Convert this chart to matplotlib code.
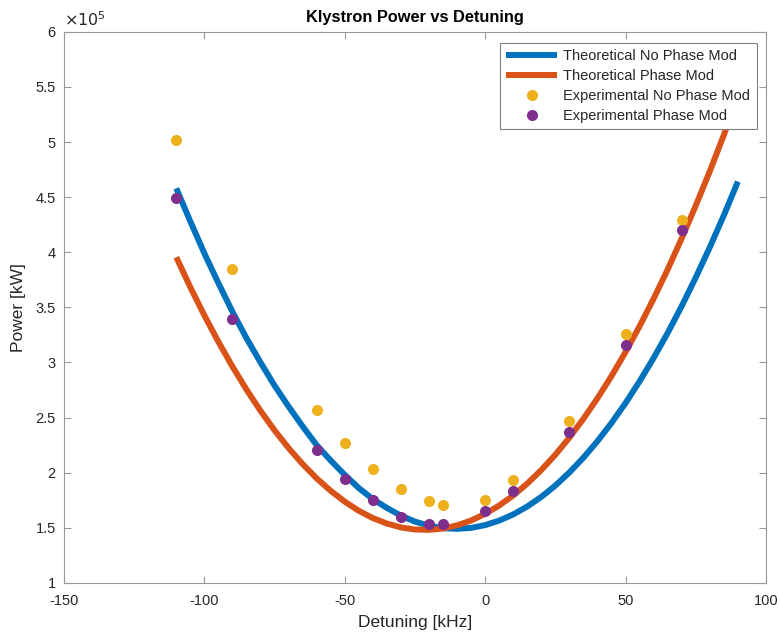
import matplotlib
matplotlib.use("Agg")
import matplotlib.pyplot as plt
from matplotlib.ticker import FuncFormatter, MultipleLocator

# ---------------- data ----------------
# theoretical curves, detuning in kHz, power in kW
det_theory = [-110, -105, -100, -95, -90, -85, -80, -75, -70, -65, -60, -55,
              -50, -45, -40, -35, -30, -25, -20, -15, -10, -5, 0, 5, 10, 15,
              20, 25, 30, 35, 40, 45, 50, 55, 60, 65, 70, 75, 80, 85, 90]
pw_theory_nopm = [4.580, 4.280, 3.990, 3.720, 3.460, 3.220, 3.000, 2.790,
                  2.600, 2.420, 2.250, 2.110, 1.980, 1.860, 1.760, 1.680,
                  1.610, 1.556, 1.518, 1.496, 1.490, 1.499, 1.524, 1.565,
                  1.621, 1.693, 1.780, 1.883, 2.002, 2.136, 2.286, 2.451,
                  2.632, 2.829, 3.041, 3.268, 3.512, 3.771, 4.045, 4.335, 4.641]
pw_theory_pm = [3.955, 3.683, 3.427, 3.187, 2.963, 2.754, 2.561, 2.384,
                2.223, 2.078, 1.948, 1.835, 1.737, 1.654, 1.588, 1.538,
                1.503, 1.484, 1.481, 1.493, 1.522, 1.566, 1.626, 1.702,
                1.793, 1.901, 2.024, 2.163, 2.318, 2.489, 2.675, 2.877,
                3.095, 3.329, 3.579, 3.844, 4.126, 4.423, 4.735, 5.064, 5.409]

det_exp = [-110, -90, -60, -50, -40, -30, -20, -15, 0, 10, 30, 50, 70]
pw_exp_nopm = [5.02, 3.85, 2.57, 2.27, 2.03, 1.85, 1.74, 1.71, 1.75, 1.93,
               2.47, 3.26, 4.29]
pw_exp_pm = [4.49, 3.39, 2.21, 1.94, 1.75, 1.60, 1.53, 1.53, 1.65, 1.83,
             2.37, 3.16, 4.20]

SCALE = 1e5   # values above are in units of 1e5 kW

C_BLUE = "#0072BD"
C_ORANGE = "#D95319"
C_YELLOW = "#EDB120"
C_PURPLE = "#7E2F8E"
# ---------------------------------------------------------------

plt.rcParams["font.family"] = ["Liberation Sans", "DejaVu Sans"]
plt.rcParams["axes.unicode_minus"] = False
AX_GRAY = "0.6"
TXT = "#262626"

fig = plt.figure(figsize=(7.8, 6.37), dpi=100)
ax = fig.add_axes([0.082, 0.085, 0.900, 0.865])

ax.plot(det_theory, [v * SCALE for v in pw_theory_nopm], color=C_BLUE,
        lw=4.3, solid_capstyle="butt", label="Theoretical No Phase Mod")
ax.plot(det_theory, [v * SCALE for v in pw_theory_pm], color=C_ORANGE,
        lw=4.3, solid_capstyle="butt", label="Theoretical Phase Mod")
ax.plot(det_exp, [v * SCALE for v in pw_exp_nopm], "o", color=C_YELLOW,
        ms=8, mec="none", label="Experimental No Phase Mod")
ax.plot(det_exp, [v * SCALE for v in pw_exp_pm], "o", color=C_PURPLE,
        ms=8, mec="none", label="Experimental Phase Mod")

ax.set_xlim(-150, 100)
ax.set_ylim(1e5, 6e5)
ax.xaxis.set_major_locator(MultipleLocator(50))
ax.yaxis.set_major_locator(MultipleLocator(0.5e5))
ax.yaxis.set_major_formatter(FuncFormatter(lambda v, p: f"{v / SCALE:g}"))

for s in ax.spines.values():
    s.set_color(AX_GRAY)
    s.set_linewidth(0.8)
ax.tick_params(direction="in", length=5, width=0.8, color=AX_GRAY,
               labelcolor=TXT, labelsize=10.5, top=True, right=True)
ax.tick_params(axis="x", pad=8)
ax.tick_params(axis="y", pad=6)

ax.text(0.0, 1.006, r"$\times10^5$", transform=ax.transAxes, ha="left",
        va="bottom", fontsize=11.5, color=TXT)
ax.set_title("Klystron Power vs Detuning", fontsize=11.8, fontweight="bold",
             color="black", pad=7)
ax.set_xlabel("Detuning [kHz]", fontsize=12.5, color=TXT, labelpad=5)
ax.set_ylabel("Power [kW]", fontsize=12.5, color=TXT, labelpad=7)

leg = ax.legend(loc="upper right", fontsize=10.5, handlelength=3.5,
                handletextpad=0.4, borderpad=0.45, labelspacing=0.4,
                borderaxespad=0, fancybox=False, framealpha=1,
                edgecolor="0.5", bbox_to_anchor=(0.987, 0.98))
leg.get_frame().set_linewidth(0.8)
for t in leg.get_texts():
    t.set_color(TXT)

fig.savefig("out.png", dpi=100)
